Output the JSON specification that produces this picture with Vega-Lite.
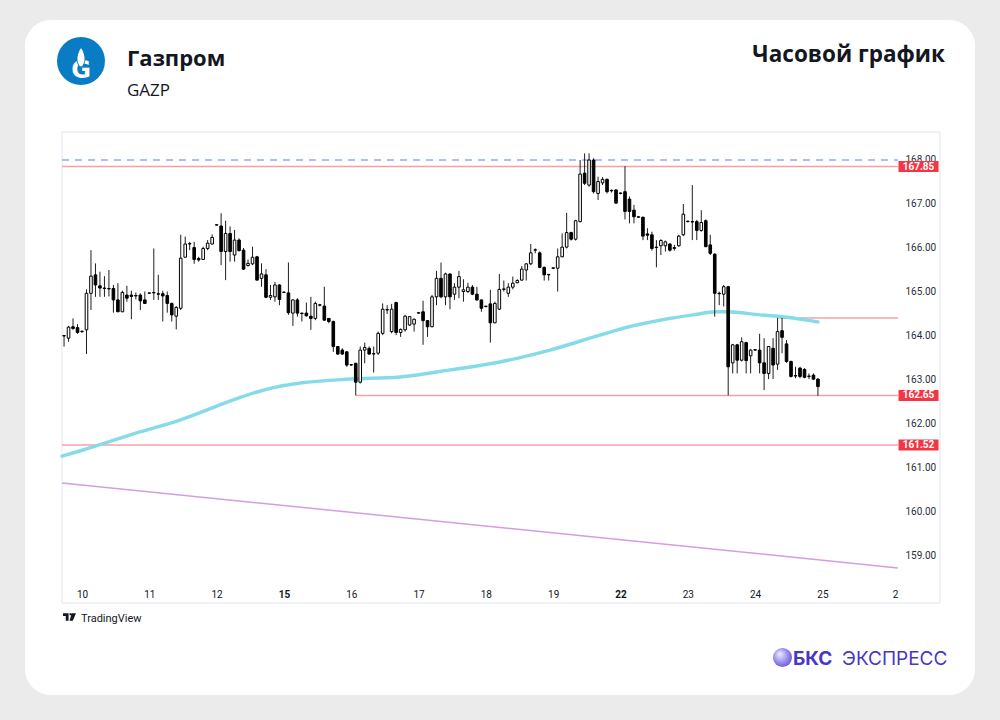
{
  "$schema": "https://vega.github.io/schema/vega-lite/v6.json",
  "width": 950,
  "height": 675,
  "autosize": {"type": "none"},
  "padding": {"left": 25, "top": 20, "right": 25, "bottom": 25},
  "background": "#ebebeb",
  "config": {"view": {"fill": "#ffffff", "stroke": null, "cornerRadius": 26}},
  "title": {"text": "Газпром", "subtitle": "GAZP", "anchor": "start", "frame": "group", "font": "Open Sans", "fontSize": 22, "fontWeight": "bold", "color": "#131722", "subtitleFont": "Open Sans", "subtitleFontSize": 17, "subtitleColor": "#131722", "subtitlePadding": 12, "offset": 0, "dx": 102, "dy": 80},
  "datasets": {
    "candles": [
      {"i":-4,"o":164.00,"h":164.02,"l":163.76,"c":164.01},
      {"i":-3,"o":163.95,"h":164.23,"l":163.87,"c":164.20},
      {"i":-2,"o":164.21,"h":164.40,"l":164.14,"c":164.17},
      {"i":-1,"o":164.19,"h":164.27,"l":164.05,"c":164.08},
      {"i":0,"o":164.10,"h":164.12,"l":164.07,"c":164.11},
      {"i":1,"o":164.14,"h":165.06,"l":163.59,"c":164.97},
      {"i":2,"o":164.97,"h":165.95,"l":164.59,"c":165.36},
      {"i":3,"o":165.39,"h":165.65,"l":164.89,"c":165.16},
      {"i":4,"o":165.14,"h":165.46,"l":164.89,"c":165.09},
      {"i":5,"o":165.08,"h":165.36,"l":164.89,"c":165.09},
      {"i":6,"o":165.08,"h":165.50,"l":164.90,"c":165.07},
      {"i":7,"o":165.08,"h":165.16,"l":164.53,"c":164.82},
      {"i":8,"o":164.82,"h":165.20,"l":164.55,"c":164.55},
      {"i":9,"o":164.55,"h":165.03,"l":164.55,"c":164.99},
      {"i":10,"o":164.93,"h":165.14,"l":164.78,"c":164.86},
      {"i":11,"o":164.93,"h":165.03,"l":164.38,"c":164.90},
      {"i":12,"o":164.91,"h":164.99,"l":164.83,"c":164.92},
      {"i":13,"o":164.93,"h":164.97,"l":164.59,"c":164.80},
      {"i":14,"o":164.82,"h":165.01,"l":164.73,"c":164.74},
      {"i":15,"o":164.97,"h":164.98,"l":164.96,"c":164.98},
      {"i":16,"o":164.99,"h":165.99,"l":164.82,"c":164.98},
      {"i":17,"o":164.96,"h":165.39,"l":164.82,"c":164.95},
      {"i":18,"o":164.96,"h":165.03,"l":164.33,"c":164.91},
      {"i":19,"o":164.92,"h":165.01,"l":164.53,"c":164.74},
      {"i":20,"o":164.74,"h":164.76,"l":164.33,"c":164.48},
      {"i":21,"o":164.45,"h":164.68,"l":164.15,"c":164.65},
      {"i":22,"o":164.63,"h":166.30,"l":164.59,"c":165.77},
      {"i":23,"o":165.79,"h":166.26,"l":165.79,"c":166.09},
      {"i":24,"o":166.09,"h":166.14,"l":165.95,"c":166.10},
      {"i":25,"o":166.01,"h":166.14,"l":165.64,"c":165.74},
      {"i":26,"o":165.76,"h":165.80,"l":165.69,"c":165.73},
      {"i":27,"o":165.74,"h":166.03,"l":165.73,"c":165.99},
      {"i":28,"o":165.99,"h":166.18,"l":165.95,"c":166.11},
      {"i":29,"o":166.09,"h":166.31,"l":166.08,"c":166.24},
      {"i":30,"o":166.52,"h":166.53,"l":166.51,"c":166.53},
      {"i":31,"o":166.50,"h":166.79,"l":165.61,"c":165.92},
      {"i":32,"o":165.92,"h":166.62,"l":165.27,"c":166.33},
      {"i":33,"o":166.33,"h":166.49,"l":165.69,"c":165.92},
      {"i":34,"o":165.84,"h":166.41,"l":165.69,"c":166.18},
      {"i":35,"o":166.18,"h":166.22,"l":165.92,"c":165.94},
      {"i":36,"o":165.95,"h":166.00,"l":165.50,"c":165.52},
      {"i":37,"o":165.60,"h":165.74,"l":165.58,"c":165.65},
      {"i":38,"o":165.64,"h":166.03,"l":165.61,"c":165.79},
      {"i":39,"o":165.80,"h":165.82,"l":165.26,"c":165.27},
      {"i":40,"o":165.31,"h":165.65,"l":165.12,"c":165.41},
      {"i":41,"o":165.39,"h":165.52,"l":164.86,"c":164.88},
      {"i":42,"o":164.88,"h":165.16,"l":164.82,"c":164.92},
      {"i":43,"o":164.89,"h":165.23,"l":164.78,"c":165.16},
      {"i":44,"o":165.16,"h":165.18,"l":164.70,"c":164.83},
      {"i":45,"o":164.99,"h":165.00,"l":164.98,"c":165.00},
      {"i":46,"o":164.98,"h":165.67,"l":164.48,"c":164.53},
      {"i":47,"o":164.52,"h":164.83,"l":164.23,"c":164.82},
      {"i":48,"o":164.82,"h":164.86,"l":164.44,"c":164.52},
      {"i":49,"o":164.52,"h":164.53,"l":164.33,"c":164.51},
      {"i":50,"o":164.52,"h":164.76,"l":164.44,"c":164.46},
      {"i":51,"o":164.45,"h":164.89,"l":164.14,"c":164.40},
      {"i":52,"o":164.40,"h":164.78,"l":164.36,"c":164.74},
      {"i":53,"o":164.70,"h":164.73,"l":164.67,"c":164.71},
      {"i":54,"o":164.68,"h":165.12,"l":164.35,"c":164.36},
      {"i":55,"o":164.40,"h":164.40,"l":164.29,"c":164.33},
      {"i":56,"o":164.33,"h":164.35,"l":163.64,"c":163.76},
      {"i":57,"o":163.76,"h":163.77,"l":163.57,"c":163.59},
      {"i":58,"o":163.68,"h":163.72,"l":163.57,"c":163.59},
      {"i":59,"o":163.64,"h":163.66,"l":163.30,"c":163.34},
      {"i":60,"o":163.34,"h":163.36,"l":163.32,"c":163.35},
      {"i":61,"o":163.38,"h":163.39,"l":162.65,"c":162.95},
      {"i":62,"o":162.95,"h":163.76,"l":162.92,"c":163.68},
      {"i":63,"o":163.68,"h":163.85,"l":163.38,"c":163.74},
      {"i":64,"o":163.72,"h":163.76,"l":163.57,"c":163.59},
      {"i":65,"o":163.59,"h":163.76,"l":163.17,"c":163.60},
      {"i":66,"o":163.61,"h":164.10,"l":163.57,"c":164.06},
      {"i":67,"o":164.06,"h":164.74,"l":164.02,"c":164.61},
      {"i":68,"o":164.59,"h":164.70,"l":164.50,"c":164.60},
      {"i":69,"o":164.10,"h":164.73,"l":164.06,"c":164.61},
      {"i":70,"o":164.76,"h":164.78,"l":164.02,"c":164.08},
      {"i":71,"o":164.08,"h":164.17,"l":163.98,"c":164.15},
      {"i":72,"o":164.14,"h":164.48,"l":164.10,"c":164.45},
      {"i":73,"o":164.25,"h":164.45,"l":164.23,"c":164.44},
      {"i":74,"o":164.27,"h":164.40,"l":164.10,"c":164.38},
      {"i":75,"o":164.52,"h":164.53,"l":164.50,"c":164.53},
      {"i":76,"o":164.55,"h":164.80,"l":163.80,"c":164.35},
      {"i":77,"o":164.35,"h":164.36,"l":163.98,"c":164.21},
      {"i":78,"o":164.21,"h":164.93,"l":164.20,"c":164.89},
      {"i":79,"o":164.89,"h":165.48,"l":164.70,"c":165.31},
      {"i":80,"o":165.31,"h":165.67,"l":164.86,"c":164.89},
      {"i":81,"o":164.89,"h":165.44,"l":164.70,"c":165.41},
      {"i":82,"o":165.41,"h":165.42,"l":164.61,"c":164.89},
      {"i":83,"o":164.95,"h":165.20,"l":164.82,"c":165.11},
      {"i":84,"o":165.11,"h":165.48,"l":164.86,"c":165.35},
      {"i":85,"o":165.01,"h":165.29,"l":164.78,"c":165.05},
      {"i":86,"o":165.01,"h":165.21,"l":164.98,"c":165.11},
      {"i":87,"o":165.11,"h":165.16,"l":164.93,"c":164.95},
      {"i":88,"o":164.95,"h":165.12,"l":164.80,"c":164.82},
      {"i":89,"o":164.82,"h":164.83,"l":164.55,"c":164.63},
      {"i":90,"o":164.67,"h":164.68,"l":164.65,"c":164.68},
      {"i":91,"o":164.73,"h":165.05,"l":163.85,"c":164.30},
      {"i":92,"o":164.30,"h":164.78,"l":164.29,"c":164.74},
      {"i":93,"o":164.61,"h":165.41,"l":164.59,"c":165.06},
      {"i":94,"o":165.06,"h":165.26,"l":165.01,"c":165.07},
      {"i":95,"o":164.97,"h":165.20,"l":164.89,"c":165.11},
      {"i":96,"o":165.11,"h":165.35,"l":165.06,"c":165.20},
      {"i":97,"o":165.21,"h":165.29,"l":165.20,"c":165.26},
      {"i":98,"o":165.27,"h":165.59,"l":165.26,"c":165.52},
      {"i":99,"o":165.50,"h":165.65,"l":165.26,"c":165.64},
      {"i":100,"o":165.64,"h":166.09,"l":165.61,"c":165.89},
      {"i":101,"o":165.95,"h":165.99,"l":165.88,"c":165.96},
      {"i":102,"o":165.89,"h":165.92,"l":165.54,"c":165.56},
      {"i":103,"o":165.56,"h":165.58,"l":165.26,"c":165.39},
      {"i":104,"o":165.39,"h":165.41,"l":165.26,"c":165.40},
      {"i":105,"o":165.54,"h":165.56,"l":165.52,"c":165.55},
      {"i":106,"o":165.54,"h":165.99,"l":165.01,"c":165.80},
      {"i":107,"o":165.80,"h":166.33,"l":165.79,"c":166.02},
      {"i":108,"o":166.02,"h":166.80,"l":165.99,"c":166.35},
      {"i":109,"o":166.35,"h":166.37,"l":166.17,"c":166.20},
      {"i":110,"o":166.20,"h":166.64,"l":166.17,"c":166.62},
      {"i":111,"o":166.60,"h":168.00,"l":166.58,"c":167.68},
      {"i":112,"o":167.70,"h":168.15,"l":167.43,"c":167.47},
      {"i":113,"o":167.43,"h":168.15,"l":167.39,"c":168.00},
      {"i":114,"o":168.00,"h":168.04,"l":167.24,"c":167.28},
      {"i":115,"o":167.24,"h":167.62,"l":167.09,"c":167.51},
      {"i":116,"o":167.48,"h":167.61,"l":167.43,"c":167.56},
      {"i":117,"o":167.56,"h":167.58,"l":167.24,"c":167.28},
      {"i":118,"o":167.30,"h":167.33,"l":167.26,"c":167.31},
      {"i":119,"o":167.32,"h":167.33,"l":167.00,"c":167.02},
      {"i":120,"o":167.24,"h":167.26,"l":167.22,"c":167.25},
      {"i":121,"o":167.28,"h":167.86,"l":166.65,"c":166.83},
      {"i":122,"o":167.11,"h":167.17,"l":166.56,"c":166.83},
      {"i":123,"o":166.86,"h":166.98,"l":166.56,"c":166.71},
      {"i":124,"o":166.70,"h":166.72,"l":166.68,"c":166.71},
      {"i":125,"o":166.70,"h":166.71,"l":166.18,"c":166.27},
      {"i":126,"o":166.32,"h":166.45,"l":166.18,"c":166.29},
      {"i":127,"o":166.30,"h":166.37,"l":165.94,"c":165.99},
      {"i":128,"o":166.02,"h":166.18,"l":165.56,"c":166.01},
      {"i":129,"o":166.05,"h":166.20,"l":165.84,"c":166.17},
      {"i":130,"o":166.05,"h":166.17,"l":165.92,"c":166.14},
      {"i":131,"o":166.09,"h":166.11,"l":165.92,"c":165.95},
      {"i":132,"o":165.99,"h":166.07,"l":165.94,"c":166.01},
      {"i":133,"o":166.05,"h":166.30,"l":166.03,"c":166.27},
      {"i":134,"o":166.30,"h":167.00,"l":166.27,"c":166.77},
      {"i":135,"o":166.60,"h":166.62,"l":166.58,"c":166.61},
      {"i":136,"o":166.60,"h":167.43,"l":166.18,"c":166.59},
      {"i":137,"o":166.60,"h":166.64,"l":166.18,"c":166.40},
      {"i":138,"o":166.40,"h":166.86,"l":166.37,"c":166.58},
      {"i":139,"o":166.62,"h":166.65,"l":166.02,"c":166.03},
      {"i":140,"o":166.07,"h":166.30,"l":165.84,"c":165.88},
      {"i":141,"o":165.86,"h":165.88,"l":164.44,"c":164.97},
      {"i":142,"o":164.97,"h":165.01,"l":164.70,"c":164.96},
      {"i":143,"o":164.95,"h":165.16,"l":164.67,"c":165.12},
      {"i":144,"o":165.12,"h":165.14,"l":162.65,"c":163.30},
      {"i":145,"o":163.39,"h":163.82,"l":163.15,"c":163.80},
      {"i":146,"o":163.80,"h":163.82,"l":163.15,"c":163.45},
      {"i":147,"o":163.45,"h":163.97,"l":163.42,"c":163.87},
      {"i":148,"o":163.85,"h":163.87,"l":163.15,"c":163.44},
      {"i":149,"o":163.55,"h":163.70,"l":163.15,"c":163.68},
      {"i":150,"o":163.68,"h":163.70,"l":163.66,"c":163.69},
      {"i":151,"o":163.68,"h":164.05,"l":163.15,"c":163.39},
      {"i":152,"o":163.39,"h":163.95,"l":162.77,"c":163.15},
      {"i":153,"o":163.15,"h":163.77,"l":163.02,"c":163.76},
      {"i":154,"o":163.72,"h":163.95,"l":163.02,"c":163.34},
      {"i":155,"o":163.36,"h":164.41,"l":163.23,"c":164.10},
      {"i":156,"o":164.12,"h":164.41,"l":163.61,"c":163.97},
      {"i":157,"o":163.82,"h":163.91,"l":163.39,"c":163.42},
      {"i":158,"o":163.42,"h":163.44,"l":163.06,"c":163.08},
      {"i":159,"o":163.09,"h":163.30,"l":163.04,"c":163.10},
      {"i":160,"o":163.27,"h":163.30,"l":163.04,"c":163.08},
      {"i":161,"o":163.24,"h":163.27,"l":163.04,"c":163.06},
      {"i":162,"o":163.08,"h":163.15,"l":163.02,"c":163.09},
      {"i":163,"o":163.11,"h":163.15,"l":163.00,"c":163.02},
      {"i":164,"o":163.02,"h":163.04,"l":162.64,"c":162.85}
    ],
    "ma": [
      {"i":-4.46,"v":161.27},{"i":0.22,"v":161.41},{"i":12.92,"v":161.82},{"i":21.84,"v":162.09},
      {"i":32.98,"v":162.52},{"i":37.44,"v":162.68},{"i":44.12,"v":162.86},{"i":48.58,"v":162.93},
      {"i":59.72,"v":163.02},{"i":70.86,"v":163.07},{"i":82.01,"v":163.23},{"i":93.15,"v":163.41},
      {"i":104.29,"v":163.68},{"i":115.43,"v":164.02},{"i":121.45,"v":164.20},{"i":128.8,"v":164.36},
      {"i":136.16,"v":164.48},{"i":141.5,"v":164.55},{"i":143.73,"v":164.55},{"i":151.09,"v":164.48},
      {"i":158.44,"v":164.41},{"i":164.01,"v":164.32}
    ],
    "trend": [{"i":-4.46,"v":160.66},{"i":181.84,"v":158.73}],
    "levels": [
      {"price":167.85,"from":-4.46,"to":181.84},
      {"price":162.65,"from":61,"to":181.84},
      {"price":161.52,"from":-4.46,"to":181.84},
      {"price":164.41,"from":155.2,"to":181.84}
    ],
    "target": [{"price":168.0,"from":-4.46,"to":181.84}],
    "tags": [{"price":167.85},{"price":162.65},{"price":161.52}]
  },
  "layer": [
    {
      "data": {"name": "candles"},
      "mark": {"type": "rule", "color": "#ffffff", "strokeWidth": 0, "opacity": 0},
      "encoding": {
        "x": {"field": "i", "type": "quantitative", "scale": {"domain": [-12.702, 198.997], "nice": false, "zero": false, "padding": 0},
          "axis": {"orient": "bottom", "offset": -108, "values": [0, 15, 30, 45, 60, 75, 90, 105, 120, 135, 150, 165, 181.2],
            "labelExpr": "datum.value > 170 ? '2' : ['10','11','12','15','16','17','18','19','22','23','24','25'][round(datum.value / 15)]",
            "domain": false, "ticks": false, "grid": false, "labelPadding": 2, "labelFont": "Roboto", "labelFontSize": 10, "labelColor": "#131722",
            "labelFontWeight": {"condition": {"test": "datum.value === 45 || datum.value === 120", "value": "bold"}, "value": "normal"},
            "labelOverlap": false, "labelFlush": false, "title": null}},
        "y": {"field": "l", "type": "quantitative", "scale": {"domain": [155.8409, 171.1818], "nice": false, "zero": false, "padding": 0},
          "axis": {"orient": "right", "offset": -72, "values": [159, 160, 161, 162, 163, 164, 165, 166, 167, 168], "format": ".2f",
            "domain": false, "ticks": false, "grid": false, "labelPadding": 2, "labelAlign": "left", "labelFont": "Roboto", "labelFontSize": 10,
            "labelColor": "#2a2e39", "labelOverlap": false, "labelFlush": false, "title": null}}
      }
    },
    {
      "data": {"values": [{}]},
      "mark": {"type": "rect", "fill": "transparent", "stroke": "#e3e5ec", "strokeWidth": 1},
      "encoding": {
        "x": {"datum": -4.46, "type": "quantitative", "scale": {"domain": [-12.702, 198.997], "nice": false, "zero": false, "padding": 0}},
        "x2": {"datum": 191.2},
        "y": {"datum": 168.636, "type": "quantitative", "scale": {"domain": [155.8409, 171.1818], "nice": false, "zero": false, "padding": 0}},
        "y2": {"datum": 157.932}
      }
    },
    {
      "data": {"name": "levels"},
      "mark": {"type": "rule", "color": "#f4a2a2", "strokeWidth": 1.5},
      "encoding": {
        "x": {"field": "from", "type": "quantitative", "scale": {"domain": [-12.702, 198.997], "nice": false, "zero": false, "padding": 0}},
        "x2": {"field": "to"},
        "y": {"field": "price", "type": "quantitative", "scale": {"domain": [155.8409, 171.1818], "nice": false, "zero": false, "padding": 0}}
      }
    },
    {
      "data": {"name": "target"},
      "mark": {"type": "rule", "color": "#8eaaf5", "strokeWidth": 1.5, "strokeDash": [7, 6]},
      "encoding": {
        "x": {"field": "from", "type": "quantitative", "scale": {"domain": [-12.702, 198.997], "nice": false, "zero": false, "padding": 0}},
        "x2": {"field": "to"},
        "y": {"field": "price", "type": "quantitative", "scale": {"domain": [155.8409, 171.1818], "nice": false, "zero": false, "padding": 0}}
      }
    },
    {
      "data": {"name": "trend"},
      "mark": {"type": "line", "color": "#d49de3", "strokeWidth": 1.5},
      "encoding": {
        "x": {"field": "i", "type": "quantitative", "scale": {"domain": [-12.702, 198.997], "nice": false, "zero": false, "padding": 0}},
        "y": {"field": "v", "type": "quantitative", "scale": {"domain": [155.8409, 171.1818], "nice": false, "zero": false, "padding": 0}}
      }
    },
    {
      "data": {"name": "ma"},
      "mark": {"type": "line", "color": "#86dbe9", "strokeWidth": 3.5, "interpolate": "monotone", "strokeCap": "round"},
      "encoding": {
        "x": {"field": "i", "type": "quantitative", "scale": {"domain": [-12.702, 198.997], "nice": false, "zero": false, "padding": 0}},
        "y": {"field": "v", "type": "quantitative", "scale": {"domain": [155.8409, 171.1818], "nice": false, "zero": false, "padding": 0}}
      }
    },
    {
      "data": {"name": "candles"},
      "mark": {"type": "rule", "color": "#1e1e1e", "strokeWidth": 1},
      "encoding": {
        "x": {"field": "i", "type": "quantitative", "scale": {"domain": [-12.702, 198.997], "nice": false, "zero": false, "padding": 0}},
        "y": {"field": "l", "type": "quantitative", "scale": {"domain": [155.8409, 171.1818], "nice": false, "zero": false, "padding": 0}},
        "y2": {"field": "h"}
      }
    },
    {
      "data": {"name": "candles"},
      "mark": {"type": "bar", "size": 2.6, "stroke": "#000000", "strokeWidth": 1},
      "encoding": {
        "x": {"field": "i", "type": "quantitative", "scale": {"domain": [-12.702, 198.997], "nice": false, "zero": false, "padding": 0}},
        "y": {"field": "o", "type": "quantitative", "scale": {"domain": [155.8409, 171.1818], "nice": false, "zero": false, "padding": 0}},
        "y2": {"field": "c"},
        "fill": {"condition": {"test": "datum.c >= datum.o", "value": "#ffffff"}, "value": "#000000"}
      }
    },
    {
      "data": {"name": "tags"},
      "mark": {"type": "point", "shape": "M-1,-0.275L1,-0.275L1,0.275L-1,0.275Z", "filled": true, "fill": "#f23645", "size": 1600, "strokeWidth": 0, "opacity": 1},
      "encoding": {
        "x": {"datum": 186.41, "type": "quantitative", "scale": {"domain": [-12.702, 198.997], "nice": false, "zero": false, "padding": 0}},
        "y": {"field": "price", "type": "quantitative", "scale": {"domain": [155.8409, 171.1818], "nice": false, "zero": false, "padding": 0}}
      }
    },
    {
      "data": {"name": "tags"},
      "mark": {"type": "text", "font": "Roboto", "fontSize": 10, "fontWeight": "bold", "color": "#ffffff", "align": "center", "baseline": "middle"},
      "encoding": {
        "x": {"datum": 186.41, "type": "quantitative", "scale": {"domain": [-12.702, 198.997], "nice": false, "zero": false, "padding": 0}},
        "y": {"field": "price", "type": "quantitative", "scale": {"domain": [155.8409, 171.1818], "nice": false, "zero": false, "padding": 0}},
        "text": {"field": "price", "type": "quantitative", "format": ".2f"}
      }
    },
    {
      "data": {"values": [{}]},
      "mark": {"type": "point", "shape": "circle", "filled": true, "fill": "#0a7cc4", "size": 2304, "strokeWidth": 0, "opacity": 1},
      "encoding": {
        "x": {"datum": -0.223, "type": "quantitative", "scale": {"domain": [-12.702, 198.997], "nice": false, "zero": false, "padding": 0}},
        "y": {"datum": 170.25, "type": "quantitative", "scale": {"domain": [155.8409, 171.1818], "nice": false, "zero": false, "padding": 0}}
      }
    },
    {
      "data": {"values": [{}]},
      "mark": {"type": "text", "text": "G", "font": "DejaVu Sans", "fontSize": 24, "fontWeight": "bold", "color": "#ffffff", "align": "center", "baseline": "middle"},
      "encoding": {
        "x": {"datum": -0.223, "type": "quantitative", "scale": {"domain": [-12.702, 198.997], "nice": false, "zero": false, "padding": 0}},
        "y": {"datum": 170.023, "type": "quantitative", "scale": {"domain": [155.8409, 171.1818], "nice": false, "zero": false, "padding": 0}}
      }
    },
    {
      "data": {"values": [{}]},
      "mark": {"type": "point", "shape": "M0,-1C0.3,-0.5 0.45,-0.1 0.4,0.3C0.35,0.7 0.15,1 0,1C-0.15,1 -0.35,0.7 -0.4,0.3C-0.45,-0.1 -0.3,-0.5 0,-1Z", "filled": true, "fill": "#ffffff", "stroke": "#0a7cc4", "strokeWidth": 1, "size": 400, "opacity": 1},
      "encoding": {
        "x": {"datum": -0.223, "type": "quantitative", "scale": {"domain": [-12.702, 198.997], "nice": false, "zero": false, "padding": 0}},
        "y": {"datum": 170.341, "type": "quantitative", "scale": {"domain": [155.8409, 171.1818], "nice": false, "zero": false, "padding": 0}}
      }
    },
    {
      "data": {"values": [{}]},
      "mark": {"type": "text", "text": "Часовой график", "font": "Open Sans", "fontSize": 22.5, "fontWeight": "bold", "color": "#131722", "align": "right", "baseline": "alphabetic"},
      "encoding": {
        "x": {"datum": 192.31, "type": "quantitative", "scale": {"domain": [-12.702, 198.997], "nice": false, "zero": false, "padding": 0}},
        "y": {"datum": 170.227, "type": "quantitative", "scale": {"domain": [155.8409, 171.1818], "nice": false, "zero": false, "padding": 0}}
      }
    },
    {
      "data": {"values": [{}]},
      "mark": {"type": "point", "shape": "M-1,-0.571L-0.143,-0.571L-0.143,0.571L-0.571,0.571L-0.571,-0.143L-1,-0.143Z M0,-0.571L0.3,-0.571L0.3,-0.25L0,-0.25Z M0.357,-0.571L1,-0.571L0.5,0.571L0,0.571Z", "filled": true, "fill": "#131722", "size": 169, "strokeWidth": 0, "opacity": 1},
      "encoding": {
        "x": {"datum": -2.786, "type": "quantitative", "scale": {"domain": [-12.702, 198.997], "nice": false, "zero": false, "padding": 0}},
        "y": {"datum": 157.614, "type": "quantitative", "scale": {"domain": [155.8409, 171.1818], "nice": false, "zero": false, "padding": 0}}
      }
    },
    {
      "data": {"values": [{}]},
      "mark": {"type": "text", "text": "TradingView", "font": "Roboto", "fontSize": 11, "color": "#131722", "align": "left", "baseline": "alphabetic"},
      "encoding": {
        "x": {"datum": -0.223, "type": "quantitative", "scale": {"domain": [-12.702, 198.997], "nice": false, "zero": false, "padding": 0}},
        "y": {"datum": 157.511, "type": "quantitative", "scale": {"domain": [155.8409, 171.1818], "nice": false, "zero": false, "padding": 0}}
      }
    },
    {
      "data": {"values": [{}]},
      "mark": {"type": "point", "shape": "circle", "filled": true, "size": 361, "strokeWidth": 0, "opacity": 1,
        "fill": {"gradient": "radial", "x1": 0.35, "y1": 0.3, "r1": 0, "x2": 0.45, "y2": 0.45, "r2": 0.65, "stops": [{"offset": 0, "color": "#f1efff"}, {"offset": 0.5, "color": "#a49cf0"}, {"offset": 1, "color": "#5a4bd6"}]}},
      "encoding": {
        "x": {"datum": 156.1, "type": "quantitative", "scale": {"domain": [-12.702, 198.997], "nice": false, "zero": false, "padding": 0}},
        "y": {"datum": 156.693, "type": "quantitative", "scale": {"domain": [155.8409, 171.1818], "nice": false, "zero": false, "padding": 0}}
      }
    },
    {
      "data": {"values": [{}]},
      "mark": {"type": "text", "text": "БКС", "font": "Inter", "fontSize": 19, "fontWeight": "bold", "color": "#4637c4", "align": "left", "baseline": "alphabetic"},
      "encoding": {
        "x": {"datum": 158.44, "type": "quantitative", "scale": {"domain": [-12.702, 198.997], "nice": false, "zero": false, "padding": 0}},
        "y": {"datum": 156.523, "type": "quantitative", "scale": {"domain": [155.8409, 171.1818], "nice": false, "zero": false, "padding": 0}}
      }
    },
    {
      "data": {"values": [{}]},
      "mark": {"type": "text", "text": "ЭКСПРЕСС", "font": "Inter", "fontSize": 19, "color": "#4637c4", "align": "left", "baseline": "alphabetic"},
      "encoding": {
        "x": {"datum": 169.36, "type": "quantitative", "scale": {"domain": [-12.702, 198.997], "nice": false, "zero": false, "padding": 0}},
        "y": {"datum": 156.523, "type": "quantitative", "scale": {"domain": [155.8409, 171.1818], "nice": false, "zero": false, "padding": 0}}
      }
    }
  ]
}
